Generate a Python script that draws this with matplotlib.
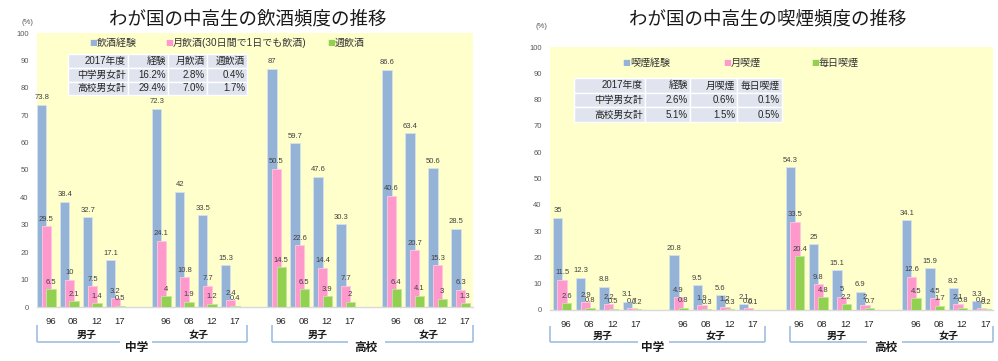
import matplotlib
matplotlib.use('Agg')
import matplotlib.pyplot as plt
from matplotlib.patches import Rectangle
from matplotlib.transforms import blended_transform_factory

FONT = ['Liberation Sans', 'Noto Sans CJK JP', 'DejaVu Sans']
plt.rcParams['font.family'] = FONT

# ---------------- data ----------------
years = ['96', '08', '12', '17']
sexes = ['男子', '女子', '男子', '女子']
schools = ['中学', '高校']

drink_title = 'わが国の中高生の飲酒頻度の推移'
drink_series = ['飲酒経験', '月飲酒(30日間で1日でも飲酒)', '週飲酒']
drink_exp = [73.8, 38.4, 32.7, 17.1, 72.3, 42, 33.5, 15.3,
             87, 59.7, 47.6, 30.3, 86.6, 63.4, 50.6, 28.5]
drink_month = [29.5, 10, 7.5, 3.2, 24.1, 10.8, 7.7, 2.4,
               50.5, 22.6, 14.4, 7.7, 40.6, 20.7, 15.3, 6.3]
drink_week = [6.5, 2.1, 1.4, 0.5, 4, 1.9, 1.2, 0.4,
              14.5, 6.5, 3.9, 2, 6.4, 4.1, 3, 1.3]
drink_table_header = ['2017年度', '経験', '月飲酒', '週飲酒']
drink_table_rows = [['中学男女計', '16.2%', '2.8%', '0.4%'],
                    ['高校男女計', '29.4%', '7.0%', '1.7%']]

smoke_title = 'わが国の中高生の喫煙頻度の推移'
smoke_series = ['喫煙経験', '月喫煙', '毎日喫煙']
smoke_exp = [35, 12.3, 8.8, 3.1, 20.8, 9.5, 5.6, 2.1,
             54.3, 25, 15.1, 6.9, 34.1, 15.9, 8.2, 3.3]
smoke_month = [11.5, 2.9, 2.2, 0.7, 4.9, 1.9, 1.2, 0.6,
               33.5, 9.8, 5, 2, 12.6, 4.5, 2.1, 0.9]
smoke_daily = [2.6, 0.8, 0.5, 0.2, 0.8, 0.3, 0.3, 0.1,
               20.4, 4.8, 2.2, 0.7, 4.5, 1.7, 0.8, 0.2]
smoke_table_header = ['2017年度', '経験', '月喫煙', '毎日喫煙']
smoke_table_rows = [['中学男女計', '2.6%', '0.6%', '0.1%'],
                    ['高校男女計', '5.1%', '1.5%', '0.5%']]

# ---------------- style ----------------
W, H = 998, 361
COLORS = ['#95b3d7', '#ff99cc', '#92d050']
EDGES = ['#d6e2f0', '#ffc6e3', '#c2e6a0']
YELLOW = '#ffffcc'
BRACKET = '#9dbfe0'
TABLE_BG = '#dfe4ee'

fig = plt.figure(figsize=(W / 100, H / 100), dpi=100)


def fy(ypx):
    return 1 - ypx / H


def fx(xpx):
    return xpx / W


slots = [g * 5 + i for g in range(4) for i in range(4)]


def draw_chart(px_left, px_right, px_top, px_bottom, xlim, title, title_xy,
               pct_xy, series_names, values, legend_px, table_px, header, rows,
               br_top, br_bot, sex_y, school_y, gaps):
    ax = fig.add_axes([fx(px_left), fy(px_bottom), fx(px_right - px_left),
                       (px_bottom - px_top) / H])
    ax.set_facecolor(YELLOW)
    ax.set_xlim(*xlim)
    ax.set_ylim(0, 100)
    for s in ['top', 'right', 'left']:
        ax.spines[s].set_visible(False)
    ax.spines['bottom'].set_color('#d9d9d9')
    ax.spines['bottom'].set_linewidth(1.0)
    ax.set_yticks(range(0, 101, 10))
    ax.tick_params(axis='y', length=0, labelsize=5.5, labelcolor='#595959', pad=6)
    ax.set_xticks([s + 0.17 for s in slots])
    ax.set_xticklabels(years * 4)
    ax.tick_params(axis='x', length=0, labelsize=6.8, labelcolor='#262626', pad=7)

    offs = [-0.2, 0.0, 0.2]
    width = 0.4
    for k, vals in enumerate(values):
        xs = [s + offs[k] for s in slots]
        ax.bar(xs, vals, width=width, color=COLORS[k], edgecolor=EDGES[k],
               linewidth=0.6, zorder=2 + k)
    for k, vals in enumerate(values):
        xs = [s + offs[k] for s in slots]
        for x, v in zip(xs, vals):
            ax.annotate(f'{v:g}', (x, v), xytext=(0, 2.5), textcoords='offset points',
                        ha='center', va='bottom', fontsize=5.5, color='#404040', zorder=10)

    # title and unit
    fig.text(fx(title_xy[0]), fy(title_xy[1]), title, ha='center', va='center',
             fontsize=13.3, color='#1a1a1a')
    fig.text(fx(pct_xy[0]), fy(pct_xy[1]), '(%)', ha='left', va='center',
             fontsize=5.5, color='#595959')

    # legend
    ly = legend_px[1]
    for name, x, c in zip(series_names, legend_px[0], COLORS):
        fig.text(fx(x), fy(ly), '■', ha='center', va='center', fontsize=6,
                 color=c, family='DejaVu Sans')
        fig.text(fx(x + 4), fy(ly), name, ha='left', va='center', fontsize=7.2,
                 color='#333333')

    # table
    cols, rws = table_px
    allrows = [header] + rows
    for r in range(3):
        for c in range(4):
            x0, x1 = cols[c], cols[c + 1]
            y0, y1 = rws[r], rws[r + 1]
            fig.patches.append(Rectangle((fx(x0), fy(y1)), fx(x1 - x0), (y1 - y0) / H,
                                         transform=fig.transFigure, facecolor=TABLE_BG,
                                         edgecolor='white', linewidth=1.0, zorder=5))
            fig.text(fx(x1 - 2), fy((y0 + y1) / 2), allrows[r][c], ha='right',
                     va='center', fontsize=7, color='#262626', zorder=6)

    # brackets
    tr = blended_transform_factory(ax.transData, fig.transFigure)
    spans = [(xlim[0] + 0.02, 8.7), (9.8, xlim[1] - 0.02)]
    for (a, b), (g0, g1), school, sx in zip(spans, gaps, schools, [3.9, 13.9]):
        kw = dict(transform=tr, color=BRACKET, lw=1.2, clip_on=False,
                  solid_capstyle='butt')
        ax.plot([a, a], [fy(br_top), fy(br_bot)], **kw)
        ax.plot([b, b], [fy(br_top), fy(br_bot)], **kw)
        ax.plot([a, g0], [fy(br_bot), fy(br_bot)], **kw)
        ax.plot([g1, b], [fy(br_bot), fy(br_bot)], **kw)
        ax.text(sx, fy(school_y), school, transform=tr, ha='center', va='center',
                fontsize=8.4, fontweight='bold', color='#1a1a1a')
    for x, sname in zip([1.75, 6.6, 11.8, 16.6], sexes):
        ax.text(x, fy(sex_y), sname, transform=tr, ha='center', va='center',
                fontsize=7.2, fontweight='bold', color='#1a1a1a')
    return ax


draw_chart(37, 473, 33, 307, (-0.41, 18.54), drink_title, (248, 20), (21, 23),
           drink_series, [drink_exp, drink_month, drink_week],
           ([93, 169, 331], 43),
           ([68, 128, 168, 207, 247], [54, 68, 81.5, 95]),
           drink_table_header, drink_table_rows,
           325, 342, 335, 348, [(3.2, 4.6), (13.1, 14.7)])

draw_chart(550, 993, 47, 310, (-0.52, 18.5), smoke_title, (768, 20), (536, 27),
           smoke_series, [smoke_exp, smoke_month, smoke_daily],
           ([626, 727, 815], 63),
           ([574, 645, 690, 737, 782], [78, 92.5, 107, 122]),
           smoke_table_header, smoke_table_rows,
           326, 342, 336, 348, [(3.26, 4.6), (13.1, 14.6)])

fig.savefig('out.png', dpi=100, facecolor='white')
